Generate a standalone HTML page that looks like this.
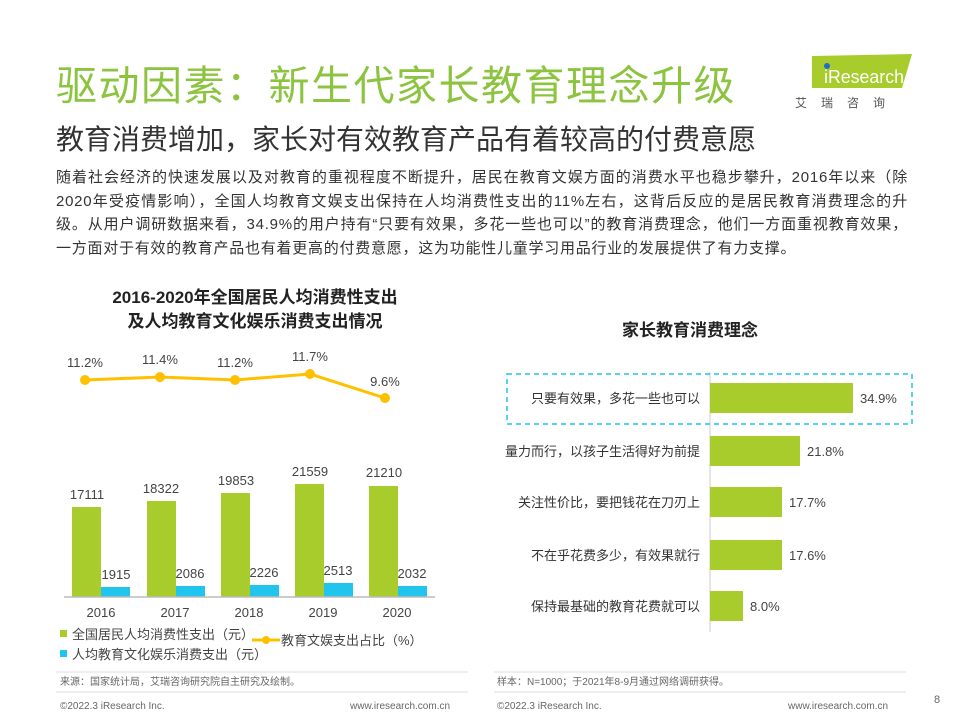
<!DOCTYPE html>
<html><head><meta charset="utf-8"><style>
body{margin:0;width:960px;height:720px;background:#fff;font-family:"Liberation Sans","Noto Sans CJK SC",sans-serif;position:relative;overflow:hidden}
.a{position:absolute;white-space:nowrap}
</style></head><body>
<div class="a" style="left:56px;top:52px;font-size:41px;color:#8cc43f;letter-spacing:1.5px">驱动因素：新生代家长教育理念升级</div>
<div class="a" style="left:56px;top:118px;font-size:28px;color:#333">教育消费增加，家长对有效教育产品有着较高的付费意愿</div>
<div class="a" style="left:56px;top:166px;width:852px;white-space:normal;font-size:15px;letter-spacing:0.75px;text-align:justify;line-height:23.5px;color:#333">随着社会经济的快速发展以及对教育的重视程度不断提升，居民在教育文娱方面的消费水平也稳步攀升，2016年以来（除2020年受疫情影响），全国人均教育文娱支出保持在人均消费性支出的11%左右，这背后反应的是居民教育消费理念的升级。从用户调研数据来看，34.9%的用户持有“只要有效果，多花一些也可以”的教育消费理念，他们一方面重视教育效果，一方面对于有效的教育产品也有着更高的付费意愿，这为功能性儿童学习用品行业的发展提供了有力支撑。</div>
<svg class="a" style="left:790px;top:52px" width="130" height="60"><polygon points="22,4 122,2 112,36 22,36" fill="#a8cc2c"/><circle cx="37" cy="14" r="3" fill="#1c6fc1"/><text x="34" y="31" font-size="18" fill="#fff" font-family="Liberation Sans" textLength="80" lengthAdjust="spacingAndGlyphs">iResearch</text><text x="5" y="55" font-size="12" fill="#555" letter-spacing="14" font-family="Noto Sans CJK SC">艾瑞咨询</text></svg>
<div class="a" style="left:0;width:510px;text-align:center;top:286px;font-size:17px;font-weight:bold;color:#222;line-height:24px">2016-2020年全国居民人均消费性支出<br>及人均教育文化娱乐消费支出情况</div>
<div class="a" style="left:622px;top:316px;font-size:17px;font-weight:bold;color:#222">家长教育消费理念</div>
<svg class="a" style="left:0;top:0" width="960" height="720" font-family="Liberation Sans,Noto Sans CJK SC,sans-serif">
<polyline points="85,380 160,377 235,380 310,374 385,398" fill="none" stroke="#ffc000" stroke-width="3"/>
<g fill="#ffc000"><circle cx="85" cy="380" r="5"/><circle cx="160" cy="377" r="5"/><circle cx="235" cy="380" r="5"/><circle cx="310" cy="374" r="5"/><circle cx="385" cy="398" r="5"/></g>
<g font-size="13" fill="#444" text-anchor="middle"><text x="85" y="367">11.2%</text><text x="160" y="364">11.4%</text><text x="235" y="367">11.2%</text><text x="310" y="361">11.7%</text><text x="385" y="386">9.6%</text></g>
<g fill="#a8cc2c"><rect x="72" y="507" width="29" height="90"/><rect x="147" y="501" width="29" height="96"/><rect x="221" y="493" width="29" height="104"/><rect x="295" y="484" width="29" height="113"/><rect x="369" y="486" width="29" height="111"/></g>
<g fill="#21c4ec"><rect x="101" y="587" width="29" height="10"/><rect x="176" y="586" width="29" height="11"/><rect x="250" y="585" width="29" height="12"/><rect x="324" y="583" width="29" height="14"/><rect x="398" y="586" width="29" height="11"/></g>
<line x1="64" y1="597" x2="435" y2="597" stroke="#bbb" stroke-width="1.5"/>
<g font-size="13" fill="#444" text-anchor="middle"><text x="87" y="499">17111</text><text x="161" y="493">18322</text><text x="236" y="485">19853</text><text x="310" y="476">21559</text><text x="384" y="477">21210</text>
<text x="116" y="579">1915</text><text x="190" y="578">2086</text><text x="264" y="577">2226</text><text x="338" y="575">2513</text><text x="412" y="578">2032</text>
<text x="101" y="617">2016</text><text x="175" y="617">2017</text><text x="249" y="617">2018</text><text x="323" y="617">2019</text><text x="397" y="617">2020</text></g>
<rect x="60" y="630" width="7" height="7" fill="#a8cc2c"/><text x="72" y="639" font-size="13" fill="#444">全国居民人均消费性支出（元）</text>
<rect x="60" y="650" width="7" height="7" fill="#21c4ec"/><text x="72" y="659" font-size="13" fill="#444">人均教育文化娱乐消费支出（元）</text>
<line x1="252" y1="640" x2="280" y2="640" stroke="#ffc000" stroke-width="3"/><circle cx="266" cy="640" r="4" fill="#ffc000"/><text x="281" y="645" font-size="13" fill="#444">教育文娱支出占比（%）</text>
<line x1="710" y1="372" x2="710" y2="632" stroke="#ccc"/>
<rect x="507" y="374" width="405" height="50" fill="none" stroke="#21c4ec" stroke-width="1.5" stroke-dasharray="5,4"/>
<g fill="#a8cc2c"><rect x="710" y="383" width="143" height="30"/><rect x="710" y="436" width="90" height="30"/><rect x="710" y="487" width="72" height="30"/><rect x="710" y="540" width="72" height="30"/><rect x="710" y="591" width="33" height="30"/></g>
<g font-size="13" fill="#333" text-anchor="end"><text x="700" y="403">只要有效果，多花一些也可以</text><text x="700" y="456">量力而行，以孩子生活得好为前提</text><text x="700" y="507">关注性价比，要把钱花在刀刃上</text><text x="700" y="560">不在乎花费多少，有效果就行</text><text x="700" y="611">保持最基础的教育花费就可以</text></g>
<g font-size="13" fill="#444"><text x="860" y="403">34.9%</text><text x="807" y="456">21.8%</text><text x="789" y="507">17.7%</text><text x="789" y="560">17.6%</text><text x="750" y="611">8.0%</text></g>
<line x1="56" y1="672" x2="468" y2="672" stroke="#ddd"/><line x1="494" y1="672" x2="906" y2="672" stroke="#ddd"/>
<line x1="56" y1="692" x2="468" y2="692" stroke="#ddd"/><line x1="494" y1="692" x2="906" y2="692" stroke="#ddd"/>
<g font-size="10" fill="#666"><text x="60" y="685">来源：国家统计局，艾瑞咨询研究院自主研究及绘制。</text><text x="497" y="685">样本：N=1000；于2021年8-9月通过网络调研获得。</text>
<text x="60" y="709">©2022.3 iResearch Inc.</text><text x="350" y="709">www.iresearch.com.cn</text><text x="497" y="709">©2022.3 iResearch Inc.</text><text x="788" y="709">www.iresearch.com.cn</text><text x="934" y="703" font-size="11">8</text></g>
</svg>
</body></html>
